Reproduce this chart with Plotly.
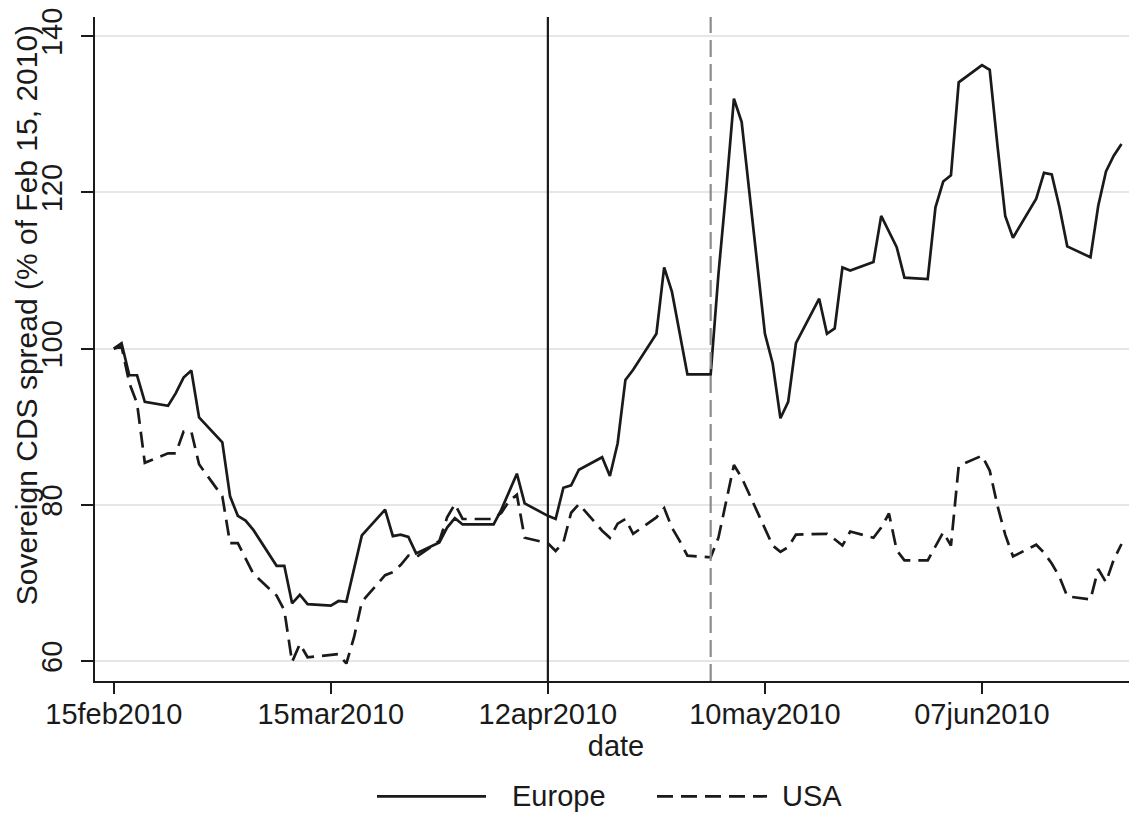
import pandas as pd
import plotly.graph_objects as go

# ---------------- data ----------------
dates = pd.bdate_range("2010-02-15", "2010-06-25")

europe = [
    100.0, 100.7, 96.6, 96.6, 93.2,
    92.7, 94.3, 96.3, 97.2, 91.2,
    88.0, 81.1, 78.6, 78.0, 76.8,
    72.2, 72.2, 67.4, 68.5, 67.3,
    67.1, 67.7, 67.6, 71.9, 76.1,
    79.4, 76.0, 76.2, 75.9, 73.8,
    75.2, 77.1, 78.3, 77.5, 77.5,
    77.5, 79.4, 81.7, 84.0, 80.2,
    78.6, 78.2, 82.2, 82.5, 84.5,
    86.1, 83.7, 87.9, 96.0, 97.3,
    101.9, 110.4, 107.3, 102.0, 96.7,
    96.7, 109.5, 120.3, 132.0, 129.0,
    101.9, 98.1, 91.1, 93.2, 100.7,
    106.4, 101.9, 102.6, 110.4, 110.0,
    111.1, 117.0, 115.1, 113.0, 109.1,
    108.9, 118.1, 121.4, 122.2, 134.1,
    136.3, 135.7, 126.0, 117.0, 114.2,
    119.2, 122.5, 122.3, 118.1, 113.1,
    111.7, 118.3, 122.7, 124.7, 126.2,
]

usa = [
    100.0, 100.3, 95.6, 93.0, 85.4,
    86.6, 86.6, 89.4, 89.4, 85.2,
    81.1, 75.1, 75.1, 73.1, 71.2,
    68.4, 66.5, 59.9, 62.2, 60.5,
    60.8, 60.9, 59.7, 63.1, 67.6,
    71.0, 71.4, 72.3, 73.5, 73.3,
    75.4, 78.4, 80.1, 78.2, 78.2,
    78.2, 79.0, 80.5, 81.3, 75.8,
    75.1, 74.1, 75.2, 79.0, 80.1,
    76.7, 75.8, 77.6, 78.2, 76.3,
    78.4, 79.6, 77.1, 75.4, 73.5,
    73.3, 75.8, 80.5, 85.1, 83.5,
    76.9, 74.8, 74.0, 74.6, 76.2,
    76.3, 76.3, 75.6, 74.8, 76.6,
    75.8, 77.1, 78.9, 74.2, 72.9,
    72.9, 74.8, 76.5, 74.8, 85.0,
    86.3, 84.4, 79.9, 76.2, 73.4,
    74.9, 73.9, 72.5, 70.8, 68.3,
    67.9, 71.8, 70.1, 73.0, 75.0,
]

series_names = ["Europe", "USA"]
tick_dates = ["2010-02-15", "2010-03-15", "2010-04-12", "2010-05-10", "2010-06-07"]
tick_labels = ["15feb2010", "15mar2010", "12apr2010", "10may2010", "07jun2010"]
y_ticks = [60, 80, 100, 120, 140]
event_solid = "2010-04-12"
event_dashed = "2010-05-03"
x_title = "date"
y_title = "Sovereign CDS spread (% of Feb 15, 2010)"

# ---------------- layout constants ----------------
OFF = 8                      # default page body margin
W, H = 1137 - OFF, 814 - OFF
ML, MR, MT, MB = 87, 0, 5, 133
PW, PH = W - ML - MR, H - MT - MB
FONT = "Liberation Sans, Arial, Helvetica, sans-serif"
FS = 29
INK = "#1a1a1a"
LW = 2.7
USA_DASH = "16px,8px"


def px_x(p):
    """page pixel x -> paper coordinate"""
    return (p - OFF - ML) / PW


def px_y(p):
    """page pixel y -> paper coordinate"""
    return (H - MB - (p - OFF)) / PH


fig = go.Figure()
fig.add_trace(go.Scatter(x=dates, y=europe, mode="lines", name=series_names[0],
                         line=dict(color=INK, width=LW), showlegend=False))
fig.add_trace(go.Scatter(x=dates, y=usa, mode="lines", name=series_names[1],
                         line=dict(color=INK, width=LW, dash=USA_DASH), showlegend=False))

LEG_Y = 797
shapes = [
    dict(type="line", xref="x", yref="paper", x0=event_solid, x1=event_solid, y0=0, y1=1,
         line=dict(color=INK, width=2.2), layer="above"),
    dict(type="line", xref="x", yref="paper", x0=event_dashed, x1=event_dashed, y0=0, y1=1,
         line=dict(color="#8c8c8c", width=2.2, dash="17px,7px"), layer="above"),
    # custom legend samples
    dict(type="line", xref="paper", yref="paper", x0=px_x(377), x1=px_x(486),
         y0=px_y(LEG_Y), y1=px_y(LEG_Y), line=dict(color=INK, width=LW)),
    dict(type="line", xref="paper", yref="paper", x0=px_x(657), x1=px_x(767),
         y0=px_y(LEG_Y), y1=px_y(LEG_Y), line=dict(color=INK, width=LW, dash=USA_DASH)),
]

annotations = [
    dict(text=series_names[0], xref="paper", yref="paper", x=px_x(510), y=px_y(LEG_Y),
         xanchor="left", yanchor="middle", showarrow=False,
         font=dict(family=FONT, size=FS, color=INK)),
    dict(text=series_names[1], xref="paper", yref="paper", x=px_x(780), y=px_y(LEG_Y),
         xanchor="left", yanchor="middle", showarrow=False,
         font=dict(family=FONT, size=FS, color=INK)),
    # y-axis title
    dict(text=y_title, xref="paper", yref="paper", x=px_x(26), y=px_y(313),
         xanchor="center", yanchor="middle", textangle=-90, showarrow=False,
         font=dict(family=FONT, size=30, color=INK)),
]

fig.update_layout(
    width=W, height=H,
    margin=dict(l=ML, r=MR, t=MT, b=MB, pad=0),
    paper_bgcolor="white", plot_bgcolor="white",
    font=dict(family=FONT, size=FS, color=INK),
    shapes=shapes, annotations=annotations,
    showlegend=False,
)

fig.update_xaxes(
    range=["2010-02-12 13:48", "2010-06-27 00:00"],
    tickmode="array", tickvals=tick_dates, ticktext=tick_labels,
    ticks="outside", ticklen=11, tickwidth=1.5, tickcolor=INK,
    ticklabelstandoff=-5, ticklabeloverflow="allow",
    showline=True, linecolor=INK, linewidth=1.5,
    showgrid=False, zeroline=False,
    tickfont=dict(family=FONT, size=FS, color=INK),
    title=dict(text=x_title, standoff=4, font=dict(family=FONT, size=FS, color=INK)),
)

fig.update_yaxes(
    range=[57.46, 142.46],
    tickmode="array", tickvals=y_ticks,
    ticks="outside", ticklen=12, tickwidth=1.5, tickcolor=INK,
    tickangle=-90, ticklabelstandoff=8, ticklabeloverflow="allow",
    showline=True, linecolor=INK, linewidth=1.5,
    showgrid=True, gridcolor="#e6e6e6", gridwidth=2,
    zeroline=False,
    tickfont=dict(family=FONT, size=FS, color=INK),
)

fig.write_html("out.html")
